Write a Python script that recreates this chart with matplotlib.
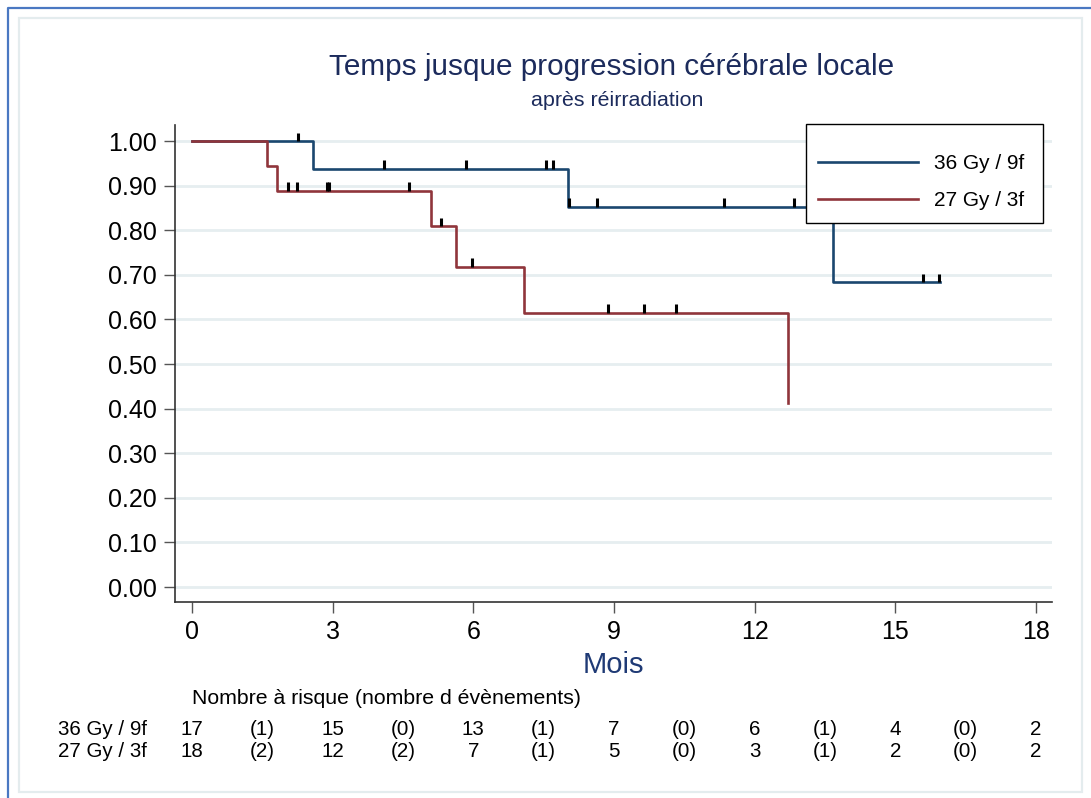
import numpy as np
import matplotlib
matplotlib.use("Agg")
import matplotlib.pyplot as plt
from matplotlib.lines import Line2D
from matplotlib.patches import Rectangle
from matplotlib.transforms import blended_transform_factory

plt.rcParams['font.family'] = ['Liberation Sans', 'DejaVu Sans']

# === DATA ===
groups = ["36 Gy / 9f", "27 Gy / 3f"]

# Kaplan-Meier step points (time in months, survival)
blue_times = [0, 2.58, 8.01, 13.67, 15.95]
blue_surv = [1.0, 0.938, 0.853, 0.683, 0.683]
red_times = [0, 1.60, 1.81, 5.10, 5.62, 7.07, 12.71]
red_surv = [1.0, 0.944, 0.889, 0.809, 0.718, 0.615, 0.412]

# censored observations (time, survival level)
blue_cens_t = [2.26, 4.10, 5.85, 7.54, 7.69, 8.03, 8.63, 11.34, 12.83, 15.59, 15.93]
blue_cens_s = [1.0, 0.938, 0.938, 0.938, 0.938, 0.853, 0.853, 0.853, 0.853, 0.683, 0.683]
red_cens_t = [2.05, 2.24, 2.88, 2.93, 4.63, 5.30, 5.98, 8.88, 9.63, 10.33]
red_cens_s = [0.889, 0.889, 0.889, 0.889, 0.889, 0.809, 0.718, 0.615, 0.615, 0.615]

# number at risk table
risk_times = [0, 3, 6, 9, 12, 15, 18]
event_times = [1.5, 4.5, 7.5, 10.5, 13.5, 16.5]
blue_at_risk = [17, 15, 13, 7, 6, 4, 2]
blue_events = [1, 0, 1, 0, 1, 0]
red_at_risk = [18, 12, 7, 5, 3, 2, 2]
red_events = [2, 2, 1, 0, 1, 0]

BLUE = '#1a476f'
RED = '#90353b'
NAVY = '#1c2b5c'

# === FIGURE ===
fig = plt.figure(figsize=(10.91, 7.98), dpi=100)
ax = fig.add_axes([175 / 1091, 1 - 602 / 798, 877 / 1091, 477 / 798])

ax.step(blue_times, blue_surv, where='post', color=BLUE, lw=1.9, label=groups[0], zorder=3)
ax.step(red_times, red_surv, where='post', color=RED, lw=1.9, label=groups[1], zorder=3)
ax.vlines(blue_cens_t, blue_cens_s, np.array(blue_cens_s) + 0.019, color='black', lw=2.2, zorder=4)
ax.vlines(red_cens_t, red_cens_s, np.array(red_cens_s) + 0.019, color='black', lw=2.2, zorder=4)

ax.set_xlim(-0.3625, 18.34)
ax.set_ylim(-0.0336, 1.0359)
ax.set_xticks(risk_times)
ax.set_yticks(np.arange(0, 1.01, 0.1))
ax.set_yticklabels([f"{v:.2f}" for v in np.arange(0, 1.01, 0.1)])
ax.tick_params(axis='both', labelsize=18, length=8, width=1, color='#555555', pad=5)

for s in ['top', 'right']:
    ax.spines[s].set_visible(False)
for s in ['left', 'bottom']:
    ax.spines[s].set_color('#333333')
    ax.spines[s].set_linewidth(1.2)

ax.yaxis.grid(True, color='#e6eef0', lw=2.0)
ax.set_axisbelow(True)

# legend: white box drawn separately, entries placed inside it
ax.add_patch(Rectangle((806 / 1091, 1 - 223 / 798), 237 / 1091, 99 / 798,
                       transform=fig.transFigure, facecolor='white', edgecolor='black',
                       lw=1.0, zorder=4.6, clip_on=False))
leg = ax.legend(loc='upper left', bbox_to_anchor=(818 / 1091, 1 - 154 / 798),
                bbox_transform=fig.transFigure, fontsize=15, frameon=False,
                borderaxespad=0, borderpad=0, handlelength=4.8,
                handletextpad=0.75, labelspacing=0.88)
leg.set_zorder(5)

# titles
fig.text(612 / 1091, 1 - 75 / 798, "Temps jusque progression cérébrale locale",
         ha='center', va='baseline', fontsize=21.4, color=NAVY)
fig.text(617 / 1091, 1 - 106 / 798, "après réirradiation",
         ha='center', va='baseline', fontsize=15.4, color=NAVY)
fig.text(613 / 1091, 1 - 673 / 798, "Mois", ha='center', va='baseline', fontsize=21,
         color='#1f3a75')

# number at risk table
tr = blended_transform_factory(ax.transData, fig.transFigure)
ax.text(0, 1 - 704 / 798, "Nombre à risque (nombre d évènements)", transform=tr,
        ha='left', va='baseline', fontsize=15.3)
rows = [(blue_at_risk, blue_events, 1 - 735 / 798), (red_at_risk, red_events, 1 - 757 / 798)]
for name, (at_risk, events, yrow) in zip(groups, rows):
    fig.text(58 / 1091, yrow, name, ha='left', va='baseline', fontsize=14.8)
    for t, n in zip(risk_times, at_risk):
        ax.text(t, yrow, str(n), transform=tr, ha='center', va='baseline', fontsize=14.8)
    for t, e in zip(event_times, events):
        ax.text(t, yrow, f"({e})", transform=tr, ha='center', va='baseline', fontsize=14.8)

# frames
fig.add_artist(Line2D([8 / 1091, 8 / 1091, 1], [0, 1 - 8 / 798, 1 - 8 / 798],
                      transform=fig.transFigure, color='#4a78c2', lw=1.6))
fig.add_artist(Rectangle((19 / 1091, 1 - 792 / 798), 1063 / 1091, 774 / 798,
                         transform=fig.transFigure, fill=False, edgecolor='#e4ecee', lw=1.6))

fig.savefig("out.png", dpi=100)
